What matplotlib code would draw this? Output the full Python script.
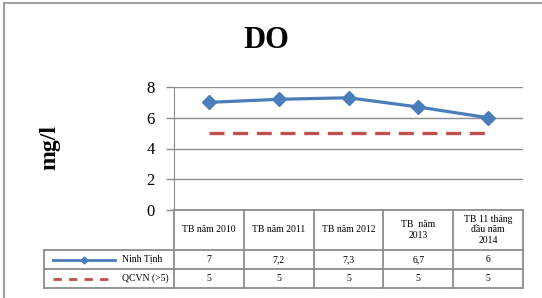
import numpy as np
import matplotlib.pyplot as plt
from matplotlib.lines import Line2D
from matplotlib.patches import Rectangle

plt.rcParams['font.family'] = ['Liberation Serif', 'DejaVu Serif']

# data
categories = ['TB năm 2010', 'TB năm 2011', 'TB năm 2012',
              'TB  năm\n2013', 'TB 11 tháng\nđầu năm\n2014']
ninh_tinh = [7, 7.2, 7.3, 6.7, 6]
qcvn = [5, 5, 5, 5, 5]
series_names = ['Ninh Tịnh', 'QCVN (>5)']
yticks = [0, 2, 4, 6, 8]

W, H = 542, 298
grid_c = '#8c8c8c'
blue = '#4a7ebb'
red = '#c0504d'


def box(x0, y0, x1, y1):
    """pixel box (top-left origin) -> figure fraction rect"""
    return [x0 / W, 1 - y1 / H, (x1 - x0) / W, (y1 - y0) / H]


fig = plt.figure(figsize=(W / 100, H / 100), dpi=100)

# outer frame, only the top and left edges are inside the picture
fig.add_artist(Rectangle((4 / W, -0.1), 1.2, 1.1 - 3 / H, transform=fig.transFigure,
                         fill=False, ec='#a0a0a0', lw=1.5))

fig.text(266 / W, 1 - 41 / H, 'DO', ha='center', va='center', fontsize=22, fontweight='bold')
fig.text(50 / W, 1 - 148 / H, 'mg/l', ha='center', va='center', rotation=90,
         fontsize=17, fontweight='bold')

# chart
ax = fig.add_axes(box(174, 87, 523, 210))
x = np.arange(len(categories))
ax.plot(x, ninh_tinh, color=blue, lw=2.3, marker='D', ms=6.8, mec=blue,
        clip_on=False, zorder=3)
ax.plot(x, qcvn, color=red, lw=2.4, ls=(0, (4.5, 2.6)), clip_on=False, zorder=3)
ax.set_xlim(-0.5, len(categories) - 0.5)
ax.set_ylim(0, 8)
ax.set_yticks(yticks)
ax.set_xticks([])
ax.grid(axis='y', color=grid_c, lw=1)
for s in ['top', 'right', 'bottom']:
    ax.spines[s].set_visible(False)
ax.spines['left'].set_color(grid_c)
ax.tick_params(axis='y', length=6, width=1, color=grid_c, pad=8, labelsize=12)

# data table under the chart
tab = fig.add_axes(box(44, 210, 523, 288))
col_w = 349 / len(categories)
leg_w = 130 / col_w
x_left = -0.5 - leg_w
tab.set_xlim(x_left, len(categories) - 0.5)
rows = [0, 40, 59, 78]
tab.set_ylim(rows[-1], rows[0])
tab.axis('off')

line_kw = dict(color=grid_c, lw=1.3, clip_on=False)
tab.plot([-0.5, len(categories) - 0.5], [rows[0], rows[0]], **line_kw)
for r in rows[1:]:
    tab.plot([x_left, len(categories) - 0.5], [r, r], **line_kw)
tab.plot([x_left, x_left], [rows[1], rows[-1]], **line_kw)
for i in range(len(categories) + 1):
    tab.plot([i - 0.5, i - 0.5], [rows[0], rows[-1]], **line_kw)

for i, c in enumerate(categories):
    tab.text(i, (rows[0] + rows[1]) / 2, c, ha='center', va='center',
             fontsize=7, linespacing=1.25)
for row, vals in enumerate([ninh_tinh, qcvn]):
    ym = (rows[row + 1] + rows[row + 2]) / 2
    for i, v in enumerate(vals):
        tab.text(i, ym, f'{v:g}'.replace('.', ','), ha='center', va='center', fontsize=7)


def px(p):
    return x_left + (p - 44) / col_w


# legend keys
y1 = (rows[1] + rows[2]) / 2
y2 = (rows[2] + rows[3]) / 2
tab.plot([px(53), px(115)], [y1, y1], color=blue, lw=2)
tab.plot([px(84)], [y1], color=blue, marker='D', ms=3.5)
tab.plot([px(53), px(112)], [y2, y2], color=red, lw=2, ls=(0, (3, 2.6)))
tab.text(px(122), y1, series_names[0], ha='left', va='center', fontsize=7)
tab.text(px(122), y2, series_names[1], ha='left', va='center', fontsize=7)

fig.savefig('out.png', dpi=100)
